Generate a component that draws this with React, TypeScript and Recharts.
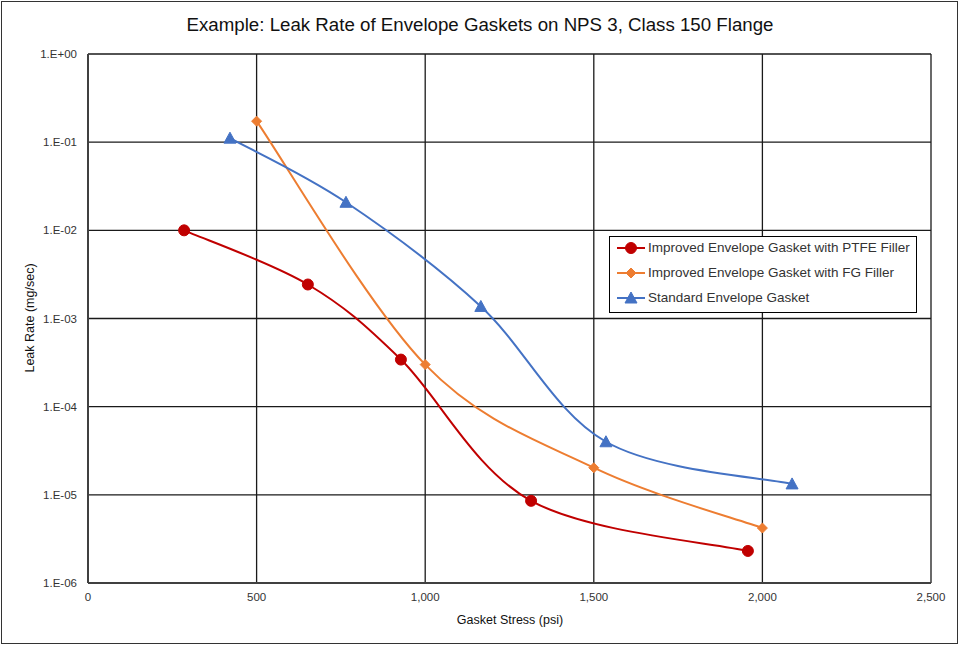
import React from 'react';
import { LineChart, Line, XAxis, YAxis, CartesianGrid } from 'recharts';

const TITLE = 'Example: Leak Rate of Envelope Gaskets on NPS 3, Class 150 Flange';
const X_TITLE = 'Gasket Stress (psi)';
const Y_TITLE = 'Leak Rate (mg/sec)';

const xTicks = [0, 500, 1000, 1500, 2000, 2500];
const yTicks = [1e-6, 1e-5, 1e-4, 1e-3, 1e-2, 1e-1, 1];

const ptfeStress = [285, 652, 928, 1314, 1957];
const ptfeLeak = [1.0e-2, 2.43e-3, 3.42e-4, 8.55e-6, 2.31e-6];

const fgStress = [500, 1000, 1500, 2000];
const fgLeak = [0.173, 3.0e-4, 2.03e-5, 4.2e-6];

const stdStress = [421, 765, 1165, 1536, 2088];
const stdLeak = [0.111, 2.08e-2, 1.37e-3, 4.0e-5, 1.33e-5];

const seriesNames = [
  'Improved Envelope Gasket with PTFE Filler',
  'Improved Envelope Gasket with FG Filler',
  'Standard Envelope Gasket',
];
const colors = ['#C00000', '#ED7D31', '#4472C4'];

const toRows = (xs: number[], ys: number[]) => xs.map((x, i) => ({ x, y: ys[i] }));
const ptfeData = toRows(ptfeStress, ptfeLeak);
const fgData = toRows(fgStress, fgLeak);
const stdData = toRows(stdStress, stdLeak);

const FONT = '"Liberation Sans", Arial, sans-serif';

// Excel-like smoothing (uniform Catmull-Rom as cubic Bezier)
const excelCurve: any = (context: any) => {
  let pts: number[][] = [];
  return {
    areaStart() {},
    areaEnd() {},
    lineStart() {
      pts = [];
    },
    point(x: number, y: number) {
      pts.push([+x, +y]);
    },
    lineEnd() {
      if (!pts.length) return;
      context.moveTo(pts[0][0], pts[0][1]);
      for (let i = 0; i < pts.length - 1; i++) {
        const p0 = pts[i - 1] || pts[i];
        const p1 = pts[i];
        const p2 = pts[i + 1];
        const p3 = pts[i + 2] || pts[i + 1];
        const c1x = p1[0] + (p2[0] - p0[0]) / 6;
        const c1y = p1[1] + (p2[1] - p0[1]) / 6;
        const c2x = p2[0] - (p3[0] - p1[0]) / 6;
        const c2y = p2[1] - (p3[1] - p1[1]) / 6;
        context.bezierCurveTo(c1x, c1y, c2x, c2y, p2[0], p2[1]);
      }
    },
  };
};

const Marker = ({ kind, cx, cy, color }: any) => {
  if (cx == null || cy == null) return null;
  if (kind === 0) return <circle cx={cx} cy={cy} r={5.5} fill={color} stroke={color} />;
  if (kind === 1)
    return (
      <polygon
        points={`${cx},${cy - 5} ${cx + 5},${cy} ${cx},${cy + 5} ${cx - 5},${cy}`}
        fill={color}
        stroke={color}
      />
    );
  return (
    <polygon
      points={`${cx},${cy - 6} ${cx + 6},${cy + 5} ${cx - 6},${cy + 5}`}
      fill={color}
      stroke={color}
    />
  );
};

const fmtY = (v: number) => {
  const e = Math.round(Math.log10(v));
  const s = e < 0 ? '-' : '+';
  const a = Math.abs(e);
  return `1.E${s}${a < 10 ? '0' : ''}${a}`;
};
const fmtX = (v: number) => v.toLocaleString('en-US');

const LegendBox = () => (
  <div
    style={{
      position: 'absolute',
      left: 609,
      top: 236,
      width: 308,
      height: 77,
      border: '1.5px solid #000',
      background: '#fff',
      boxSizing: 'border-box',
      fontFamily: FONT,
      fontSize: 13.5,
      color: '#333',
    }}
  >
    <div style={{ position: 'relative', top: -2 }}>
      {seriesNames.map((n, i) => (
        <div key={n} style={{ display: 'flex', alignItems: 'center', height: 25 }}>
          <svg width={36} height={14} style={{ marginLeft: 5 }}>
            <line x1={2} y1={7} x2={30} y2={7} stroke={colors[i]} strokeWidth={2} />
            <Marker kind={i} cx={16} cy={7} color={colors[i]} />
          </svg>
          <span style={{ marginLeft: -3 }}>{n}</span>
        </div>
      ))}
    </div>
  </div>
);

export default function App() {
  return (
    <div style={{ position: 'absolute', left: 0, top: 0, width: 960, height: 645, background: '#fff' }}>
      <div
        style={{
          position: 'absolute',
          left: 1,
          top: 1,
          width: 957,
          height: 643,
          border: '1px solid #333',
          boxSizing: 'border-box',
        }}
      />
      <LineChart
        width={960}
        height={645}
        margin={{ top: 54, right: 29, left: 0, bottom: 0 }}
        style={{ fontFamily: FONT }}
      >
        <text x={480} y={31} textAnchor="middle" fontSize={18.7} fill="#111" fontFamily={FONT}>
          {TITLE}
        </text>
        <text
          x={0}
          y={0}
          transform={`translate(34, 318) rotate(-90)`}
          textAnchor="middle"
          fontSize={12.5}
          fill="#111"
          fontFamily={FONT}
        >
          {Y_TITLE}
        </text>
        <text x={510} y={624} textAnchor="middle" fontSize={12.5} fill="#111" fontFamily={FONT}>
          {X_TITLE}
        </text>
        <CartesianGrid stroke="#1a1a1a" strokeWidth={1.3} />
        <XAxis
          type="number"
          dataKey="x"
          domain={[0, 2500]}
          ticks={xTicks}
          tickFormatter={fmtX}
          allowDataOverflow
          height={62}
          tickLine={false}
          tickSize={0}
          tickMargin={10}
          axisLine={{ stroke: '#404040', strokeWidth: 2 }}
          tick={{ fontSize: 11.5, fill: '#333', fontFamily: FONT }}
        />
        <YAxis
          type="number"
          dataKey="y"
          scale="log"
          domain={[1e-6, 1]}
          ticks={yTicks}
          tickFormatter={fmtY}
          allowDataOverflow
          width={88}
          tickLine={false}
          tickSize={0}
          tickMargin={11}
          axisLine={{ stroke: '#404040', strokeWidth: 2 }}
          tick={{ fontSize: 11.5, fill: '#333', fontFamily: FONT }}
        />
        {[ptfeData, fgData, stdData].map((d, i) => (
          <Line
            key={seriesNames[i]}
            data={d}
            dataKey="y"
            name={seriesNames[i]}
            type={excelCurve}
            stroke={colors[i]}
            strokeWidth={2}
            dot={(p: any) => <Marker key={`${i}-${p.index}`} kind={i} cx={p.cx} cy={p.cy} color={colors[i]} />}
            activeDot={false}
            isAnimationActive={false}
          />
        ))}
      </LineChart>
      <LegendBox />
    </div>
  );
}
